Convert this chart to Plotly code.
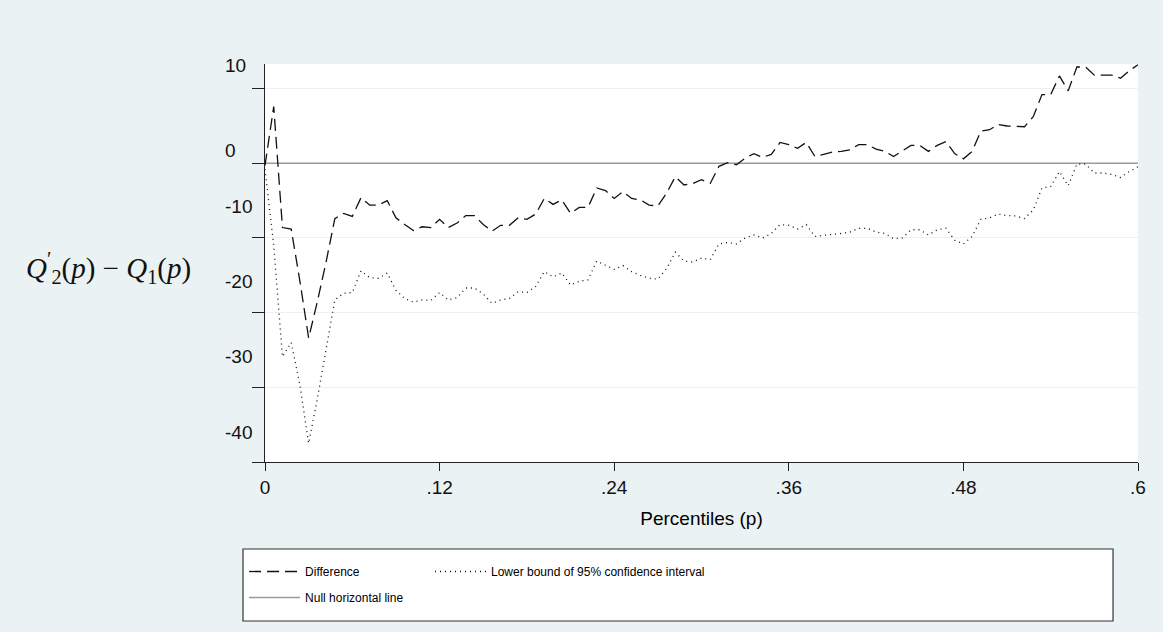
import plotly.graph_objects as go

# Percentile grid (step 0.006 from 0 to 0.6)
percentile = [round(0.006 * i, 3) for i in range(101)]

# Difference between the two quantile functions
difference = [
    -0.3, 7.6, -8.6, -8.8, -15.8, -23.4, -18.5, -13.2, -7.4, -6.7,
    -7.1, -4.6, -5.6, -5.6, -5.0, -7.3, -8.2, -9.0, -8.5, -8.6,
    -7.5, -8.6, -8.0, -7.0, -7.0, -8.2, -9.1, -8.3, -8.3, -7.3,
    -7.5, -6.8, -4.7, -5.5, -4.9, -6.7, -5.9, -5.9, -3.3, -3.65,
    -4.7, -3.8, -4.7, -4.9, -5.6, -5.7, -4.0, -1.8, -2.9, -2.7,
    -2.2, -2.7, -0.4, 0.1, -0.2, 0.7, 1.3, 0.8, 1.2, 2.8,
    2.5, 2.0, 2.8, 0.9, 1.2, 1.5, 1.6, 1.8, 2.5, 2.5,
    1.9, 1.6, 0.9, 1.6, 2.4, 2.4, 1.6, 2.4, 2.9, 1.3,
    0.6, 1.6, 4.3, 4.5, 5.2, 5.0, 5.0, 4.9, 6.25, 9.2,
    9.2, 11.7, 9.7, 12.9, 12.9, 11.8, 11.8, 11.8, 11.4, 12.4,
    13.2,
]

# Lower bound of the 95% confidence interval
lower_bound = [
    -0.8, -11.0, -25.9, -24.0, -29.7, -37.5, -31.5, -24.8, -18.3, -17.4,
    -17.3, -14.4, -15.3, -15.4, -14.7, -17.0, -18.1, -18.6, -18.3, -18.35,
    -17.3, -18.3, -18.0, -16.7, -16.7, -17.5, -18.75, -18.3, -18.1, -17.2,
    -17.3, -16.5, -14.5, -15.2, -14.7, -16.3, -15.8, -15.6, -13.1, -13.65,
    -14.2, -13.7, -14.5, -15.0, -15.4, -15.5, -14.1, -11.9, -13.1, -13.2,
    -12.7, -12.9, -10.8, -10.6, -10.8, -10.0, -9.6, -10.0, -9.4, -8.2,
    -8.3, -8.8, -8.2, -9.8, -9.6, -9.5, -9.4, -9.2, -8.7, -8.7,
    -9.2, -9.4, -10.1, -10.0, -8.9, -8.9, -9.6, -8.9, -8.7, -10.3,
    -10.8, -9.8, -7.5, -7.3, -6.8, -7.0, -7.05, -7.4, -6.25, -3.3,
    -3.1, -1.1, -3.0, -0.1, -0.1, -1.3, -1.3, -1.5, -1.9, -1.1,
    -0.45,
]

x_ticks = [0, 0.12, 0.24, 0.36, 0.48, 0.6]
x_ticktext = ["0", ".12", ".24", ".36", ".48", ".6"]
y_ticks = [10, 0, -10, -20, -30, -40]
y_ticktext = ["10", "0", "-10", "-20", "-30", "-40"]
# vertical offset (px) of each y label above its tick mark
y_label_shift = [23, 13, 31, 31, 31, 30]

BG = "#eaf2f3"
SANS = "Liberation Sans, Arial, sans-serif"

fig = go.Figure()

fig.add_trace(go.Scatter(
    x=[percentile[0], percentile[-1]], y=[0, 0], mode="lines",
    name="Null horizontal line", line=dict(color="#9a9a9a", width=1.5),
    legend="legend3", showlegend=True, hoverinfo="skip",
))
fig.add_trace(go.Scatter(
    x=percentile, y=difference, mode="lines", name="Difference",
    line=dict(color="#111111", width=1.3, dash="12px,6px"),
    legend="legend", showlegend=True,
))
fig.add_trace(go.Scatter(
    x=percentile, y=lower_bound, mode="lines",
    name="Lower bound of 95% confidence interval",
    line=dict(color="#111111", width=1.3, dash="1px,4px"),
    legend="legend2", showlegend=True,
))

legend_style = dict(
    xanchor="left", yanchor="top", orientation="v",
    bgcolor="rgba(0,0,0,0)", borderwidth=0, itemwidth=51,
    font=dict(family=SANS, size=12, color="#000000"),
)

fig.update_layout(
    width=1163, height=632,
    margin=dict(l=265, r=25, t=64, b=170),
    paper_bgcolor=BG, plot_bgcolor="white",
    font=dict(family=SANS, color="#000000"),
    showlegend=True,
    legend=dict(x=-0.024, y=-0.2387, **legend_style),
    legend2=dict(x=0.189, y=-0.2387, **legend_style),
    legend3=dict(x=-0.024, y=-0.304, **legend_style),
    xaxis=dict(
        range=[0, 0.6], tickvals=x_ticks, ticktext=x_ticktext,
        ticks="outside", ticklen=8, tickwidth=1.2, tickcolor="#222222",
        showline=True, linecolor="#222222", linewidth=1.3,
        showgrid=False, zeroline=False,
        tickfont=dict(family=SANS, size=19, color="#111111"),
        title=dict(text="Percentiles (p)", font=dict(family=SANS, size=19),
                   standoff=14),
    ),
    yaxis=dict(
        range=[-40, 13.3], tickvals=y_ticks, showticklabels=False,
        ticks="outside", ticklen=12, tickwidth=1.2, tickcolor="#222222",
        showline=True, linecolor="#222222", linewidth=1.3,
        showgrid=True, gridcolor=BG, gridwidth=1, zeroline=False,
    ),
    shapes=[dict(
        type="rect", xref="paper", yref="paper",
        x0=-0.0252, x1=0.9714, y0=-0.3995, y1=-0.2186,
        line=dict(color="#333333", width=1.2), fillcolor="white",
        layer="above",
    )],
)

annotations = []
for val, txt, shift in zip(y_ticks, y_ticktext, y_label_shift):
    annotations.append(dict(
        xref="paper", yref="y", x=(223 - 265) / 873, y=val, yshift=shift,
        xanchor="left", yanchor="middle", showarrow=False, text=txt,
        font=dict(family=SANS, size=19, color="#111111"),
    ))
annotations.append(dict(
    xref="paper", yref="paper", x=-0.179, y=0.487, xanchor="center",
    yanchor="middle", showarrow=False,
    text="<i>Q</i><sup>′</sup><sub>2</sub>(<i>p</i>) − <i>Q</i><sub>1</sub>(<i>p</i>)",
    font=dict(family="Liberation Serif, DejaVu Serif, serif", size=29,
              color="#111111"),
))
fig.update_layout(annotations=annotations)

fig.write_html("out.html")
